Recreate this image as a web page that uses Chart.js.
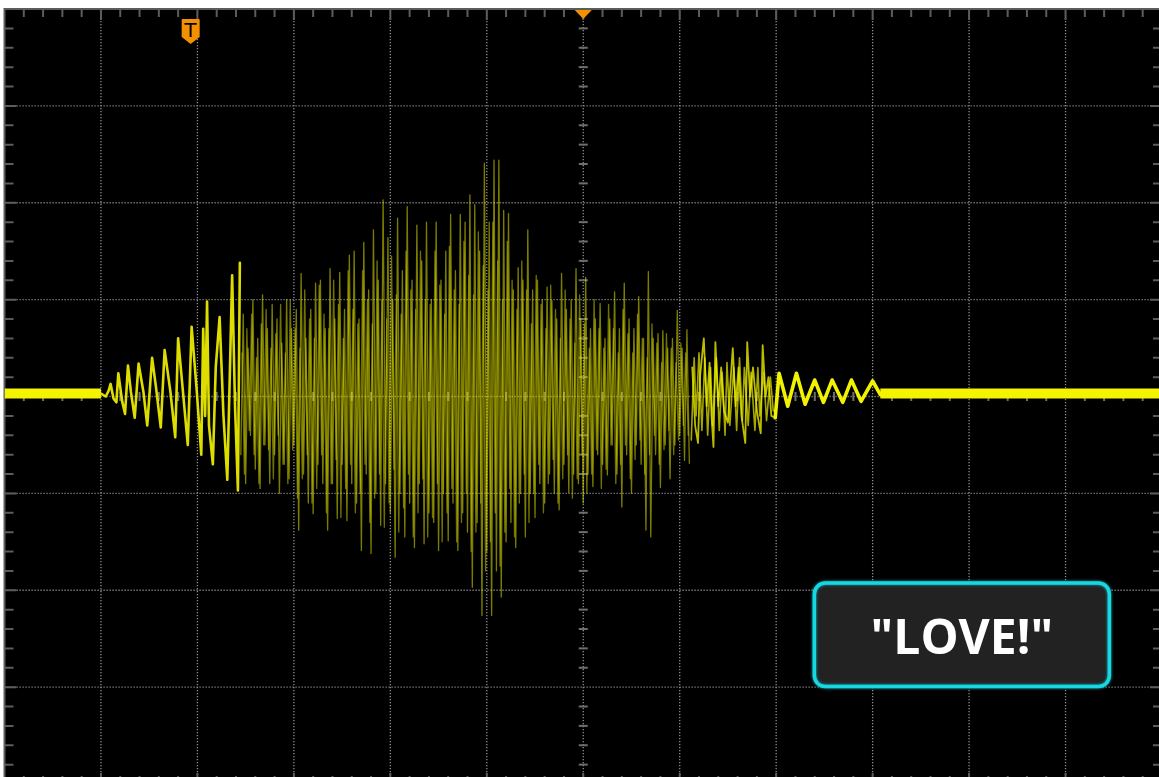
<!DOCTYPE html>
<html>
<head>
<meta charset="utf-8">
<title>Scope capture</title>
<style>
  html, body { margin: 0; padding: 0; background: #ffffff; overflow: hidden; width: 1159px; height: 777px; }
  #wrap { position: absolute; left: 0; top: 0; width: 1166px; height: 790px; }
  canvas { display: block; }
</style>
<script src="https://cdn.jsdelivr.net/npm/chart.js@4.4.0/dist/chart.umd.min.js"></script>
</head>
<body>
<div id="wrap"><canvas id="scope" width="1166" height="790"></canvas></div>
<script>
// Screen: 12 x 8 divisions, 100 ms/div horizontally, 1 V/div vertically
const timeRange = [-600, 600];   // ms
const voltRange = [-4, 4];       // V
const msPerDiv = 100;
const voltsPerDiv = 1;
const minorPerDiv = 5;

const restLevel = 0.03;          // V, trace level outside the burst
const triggerTime = -407;        // ms, "T" marker
const horizPosition = 0;         // ms, position marker at top
const labelText = '"LOVE!"';

// Onset of the word: slow, growing oscillation (ms, V)
const attackTimes = [-500, -495, -492, -490, -487, -484, -482, -478, -475, -472,
  -469, -465, -461, -456, -452, -447, -443, -438, -434, -428,
  -423, -420, -415, -410, -406, -401, -396, -394, -392, -390,
  -388, -384, -381, -377, -373, -369, -366, -364, -361, -358, -356];
const attackVolts = [0.03, 0.0, 0.06, 0.13, -0.02, -0.06, 0.24, -0.05, -0.18, 0.32,
  0.05, -0.22, 0.34, 0.05, -0.3, 0.4, 0.1, -0.32, 0.48, 0.05,
  -0.42, 0.6, 0.05, -0.5, 0.72, 0.1, -0.6, 0.7, -0.2, 0.98,
  -0.3, -0.7, 0.3, 0.82, -0.2, -0.86, 0.4, 1.25, -0.1, -0.97, 1.38];

// Vowel body, sweep A: samples every 2.5 ms starting at -355 ms (V)
const burstStart = -355;
const burstStep = 2.5;
const burstVolts = [
  -0.6, 0.85, -0.9, 0.5, -0.4, 1.0, -0.75, 0.6, -0.95, 1.05,
  -0.5, 0.7, -0.9, 0.95, -0.6, 0.8, -1.0, 0.55, -0.7, 1.0,
  -0.85, 0.7, -0.5, 0.9, -1.38, 1.27, -0.8, 0.6, -1.1, 0.9,
  -1.21, 1.17, -0.7, 1.2, -0.9, 0.7, -1.38, 1.32, -0.9, 0.8,
  -1.26, 1.28, -0.7, 0.9, -1.28, 1.46, -0.9, 1.5, -1.1, 0.8,
  -1.59, 1.59, -0.8, 1.1, -1.62, 1.72, -1.0, 1.2, -1.33, 2.03,
  -0.9, 1.64, -1.2, 1.0, -1.66, 1.84, -1.0, 1.3, -1.45, 1.96,
  -1.1, 1.2, -1.56, 1.77, -0.9, 1.4, -1.52, 1.8, -1.2, 1.0,
  -1.3, 1.8, -1.59, 1.2, -1.0, 1.5, -1.49, 1.88, -1.1, 1.3,
  -1.59, 1.88, -1.2, 1.8, -1.4, 2.08, -1.97, 1.98, -1.3, 1.5,
  -2.26, 2.41, -1.6, 1.8, -2.26, 2.44, -1.8, 2.44, -2.07, 1.92,
  -1.5, 1.89, -1.3, 1.1, -1.56, 1.33, -1.0, 1.2, -1.45, 1.72,
  -1.0, 1.1, -1.25, 1.2, -0.9, 1.0, -1.1, 1.13, -0.8, 0.99,
  -1.0, 0.8, -1.17, 1.27, -0.7, 0.9, -0.99, 1.0, -0.8, 1.32,
  -0.9, 0.8, -1.1, 1.23, -0.8, 0.7, -0.93, 0.8, -0.6, 0.96,
  -0.7, 0.6, -0.81, 0.8, -0.5, 1.08, -0.8, 0.7, -1.14, 1.17,
  -0.6, 0.8, -1.0, 0.7, -0.5, 1.03, -0.7, 0.6, -1.38, 1.29,
  -1.45, 0.6, -0.6, 0.65, -0.94, 0.68, -0.5, 0.5, -0.85, 0.6,
  -0.5, 0.89, -0.4, 0.5, -0.66, 0.69, -0.69
];

// Vowel body, sweep B (persistence overlay): every 2.5 ms from -353.75 ms (V)
const bodyStart = -353.75;
const bodyVolts = [
  0.45, -0.8, 0.7, -0.35, 0.85, -0.6, 0.4, -0.9, 0.75, -0.5,
  0.9, -0.55, 0.5, -0.85, 0.65, -0.4, 0.95, -0.7, 0.45, -0.9,
  1.0, -0.55, 0.7, -1.05, 0.5, -0.85, 1.1, -0.6, 0.8, -1.1,
  0.6, -0.95, 1.15, -0.6, 0.85, -1.2, 0.7, -0.9, 1.2, -0.65,
  0.95, -1.25, 0.6, -0.95, 1.3, -0.7, 0.9, -1.2, 0.75, -1.0,
  1.3, -0.7, 1.0, -1.3, 0.75, -1.05, 1.4, -0.8, 1.0, -1.35,
  0.8, -1.1, 1.45, -0.75, 1.05, -1.4, 0.85, -1.15, 1.5, -0.8,
  1.1, -1.45, 0.9, -1.2, 1.5, -0.85, 1.0, -1.45, 0.95, -1.25,
  1.5, -0.9, 1.15, -1.5, 0.85, -1.2, 1.55, -0.95, 1.1, -1.5,
  0.95, -1.3, 1.6, -1.0, 1.25, -1.6, 1.05, -1.4, 1.7, -1.1,
  1.35, -1.8, 1.1, -1.5, 1.8, -1.2, 1.4, -1.75, 1.0, -1.4,
  1.6, -0.95, 1.2, -1.45, 0.9, -1.1, 1.4, -0.8, 1.1, -1.3,
  0.75, -1.0, 1.25, -0.7, 0.95, -1.2, 0.7, -0.9, 1.15, -0.65,
  0.9, -1.1, 0.6, -0.85, 1.1, -0.6, 0.8, -1.05, 0.55, -0.85,
  1.05, -0.6, 0.75, -1.0, 0.5, -0.8, 1.0, -0.55, 0.7, -0.95,
  0.5, -0.75, 0.95, -0.5, 0.7, -0.9, 0.45, -0.7, 0.9, -0.5,
  0.65, -0.85, 0.45, -0.65, 0.85, -0.45, 0.6, -0.8, 0.4, -0.6,
  0.75, -0.4, 0.55, -0.7, 0.35, -0.55, 0.65, -0.35, 0.5, -0.6,
  0.35, -0.45, 0.55, -0.3, 0.45, -0.4
];

// Decay after the vowel, two sweeps (ms, V)
const tailTimes = [113, 116, 119, 121, 125, 128, 131, 133, 135, 137,
  140, 143, 146, 150, 153, 155, 158, 161, 164, 168,
  170, 173, 176, 180, 184, 186, 189, 192, 195, 199];
const tailVolts = [0.3, -0.3, -0.48, 0.2, 0.6, -0.1, 0.35, -0.2, -0.52, 0.56,
  -0.1, 0.3, -0.15, -0.27, 0.2, 0.5, -0.1, 0.3, -0.2, -0.48,
  0.56, 0.0, 0.3, -0.15, -0.38, 0.53, 0.0, 0.2, -0.2, -0.22];
const tail2Times = [112, 115, 117, 120, 123, 126, 129, 132, 134, 138,
  141, 144, 147, 149, 152, 156, 159, 162, 165, 167,
  171, 174, 178, 181, 183, 187, 190, 194, 197];
const tail2Volts = [-0.45, 0.4, -0.2, 0.45, -0.35, 0.4, -0.4, 0.3, -0.3, 0.4,
  -0.35, 0.25, -0.4, 0.35, -0.3, 0.3, -0.35, 0.4, -0.25, 0.3,
  -0.3, 0.25, -0.35, 0.3, -0.2, 0.25, -0.25, 0.2, -0.15];

// Final low ringing before the trace settles (ms, V)
const ringTimes = [199, 203, 212, 221, 230, 240, 249, 258, 269, 278, 288, 300, 308];
const ringVolts = [-0.22, 0.24, -0.1, 0.24, -0.08, 0.17, -0.06, 0.17, -0.06, 0.17, -0.05, 0.16, 0.02];

const pairs = (ts, vs) => ts.map((t, i) => ({ x: t, y: vs[i] }));
const sampled = (t0, dt, vs) => vs.map((v, i) => ({ x: t0 + i * dt, y: v }));
const leftRest = [{ x: timeRange[0], y: restLevel }, { x: attackTimes[0], y: restLevel }];
const rightRest = [{ x: ringTimes[ringTimes.length - 1], y: restLevel }, { x: timeRange[1], y: restLevel }];

const GRID_DOT = '#8e8e8e';
const FRAME = '#5c5c5c';
const MARKER = '#f39000';

// black screen behind everything
const screenFill = {
  id: 'screenFill',
  beforeDraw(chart) {
    const { ctx, chartArea: a } = chart;
    ctx.save();
    ctx.fillStyle = '#000000';
    ctx.fillRect(a.left, a.top, a.right - a.left, a.bottom - a.top);
    ctx.restore();
  }
};

// graticule: dotted division lines, frame, minor ticks on frame and centre axes
const graticule = {
  id: 'graticule',
  beforeDatasetsDraw(chart) {
    const { ctx, chartArea: a, scales: { x, y } } = chart;
    ctx.save();
    ctx.strokeStyle = GRID_DOT;
    ctx.lineWidth = 1.3;
    ctx.setLineDash([1.2, 1.8]);
    for (let t = timeRange[0] + msPerDiv; t < timeRange[1]; t += msPerDiv) {
      const px = x.getPixelForValue(t);
      ctx.beginPath(); ctx.moveTo(px, a.top); ctx.lineTo(px, a.bottom); ctx.stroke();
    }
    for (let v = voltRange[0] + voltsPerDiv; v < voltRange[1]; v += voltsPerDiv) {
      const py = y.getPixelForValue(v);
      ctx.beginPath(); ctx.moveTo(a.left, py); ctx.lineTo(a.right, py); ctx.stroke();
    }
    ctx.setLineDash([]);

    ctx.strokeStyle = FRAME;
    ctx.lineWidth = 2;
    const tStep = msPerDiv / minorPerDiv;
    const tCount = Math.round((timeRange[1] - timeRange[0]) / tStep);
    for (let k = 1; k < tCount; k++) {
      const px = x.getPixelForValue(timeRange[0] + k * tStep);
      const len = k % minorPerDiv === 0 ? 11 : 8;
      ctx.beginPath();
      ctx.moveTo(px, a.top); ctx.lineTo(px, a.top + len);
      ctx.moveTo(px, a.bottom); ctx.lineTo(px, a.bottom - len);
      ctx.stroke();
    }
    const vStep = voltsPerDiv / minorPerDiv;
    const vCount = Math.round((voltRange[1] - voltRange[0]) / vStep);
    for (let k = 1; k < vCount; k++) {
      const py = y.getPixelForValue(voltRange[0] + k * vStep);
      const len = k % minorPerDiv === 0 ? 12 : 9;
      ctx.beginPath();
      ctx.moveTo(a.left, py); ctx.lineTo(a.left + len, py);
      ctx.moveTo(a.right, py); ctx.lineTo(a.right - len, py);
      ctx.stroke();
    }
    // centre axes ticks
    ctx.strokeStyle = '#6e6e6e';
    const cx = x.getPixelForValue(0), cy = y.getPixelForValue(0);
    for (let k = 1; k < tCount; k++) {
      if (k % minorPerDiv === 0) continue;
      const px = x.getPixelForValue(timeRange[0] + k * tStep);
      ctx.beginPath(); ctx.moveTo(px, cy - 4.5); ctx.lineTo(px, cy + 4.5); ctx.stroke();
    }
    for (let k = 1; k < vCount; k++) {
      if (k % minorPerDiv === 0) continue;
      const py = y.getPixelForValue(voltRange[0] + k * vStep);
      ctx.beginPath(); ctx.moveTo(cx - 4.5, py); ctx.lineTo(cx + 4.5, py); ctx.stroke();
    }
    // frame
    ctx.strokeStyle = FRAME;
    ctx.lineWidth = 2;
    ctx.strokeRect(a.left, a.top, a.right - a.left, a.bottom - a.top);
    ctx.restore();
  }
};

// trigger / position markers and the caption box
const overlays = {
  id: 'overlays',
  afterDatasetsDraw(chart, args, opts) {
    const { ctx, chartArea: a, scales: { x, y } } = chart;
    ctx.save();
    // horizontal position marker
    const hx = x.getPixelForValue(horizPosition);
    ctx.fillStyle = MARKER;
    ctx.beginPath();
    ctx.moveTo(hx - 8.5, a.top + 1);
    ctx.lineTo(hx + 8.5, a.top + 1);
    ctx.lineTo(hx, a.top + 10);
    ctx.closePath();
    ctx.fill();

    // trigger marker
    const tx = x.getPixelForValue(triggerTime);
    const top = a.top + 10;
    ctx.beginPath();
    ctx.moveTo(tx - 9, top + 1);
    ctx.quadraticCurveTo(tx - 9, top, tx - 8, top);
    ctx.lineTo(tx + 8, top);
    ctx.quadraticCurveTo(tx + 9, top, tx + 9, top + 1);
    ctx.lineTo(tx + 9, top + 18);
    ctx.lineTo(tx, top + 25);
    ctx.lineTo(tx - 9, top + 18);
    ctx.closePath();
    ctx.fill();
    ctx.fillStyle = '#000000';
    ctx.font = '20px "DejaVu Sans"';
    ctx.textAlign = 'center';
    ctx.textBaseline = 'alphabetic';
    ctx.fillText('T', tx, top + 17.5);

    // caption box
    const b = opts.box;
    const x0 = x.getPixelForValue(b.t0), x1 = x.getPixelForValue(b.t1);
    const y0 = y.getPixelForValue(b.v0), y1 = y.getPixelForValue(b.v1);
    ctx.beginPath();
    ctx.roundRect(x0 + 1.5, y0 + 1.5, x1 - x0 - 3, y1 - y0 - 3, 11);
    ctx.fillStyle = '#222222';
    ctx.fill();
    ctx.shadowColor = 'rgba(20,220,230,0.8)';
    ctx.shadowBlur = 3;
    ctx.lineWidth = 3.5;
    ctx.strokeStyle = '#16d8e2';
    ctx.stroke();
    ctx.shadowBlur = 0;
    ctx.fillStyle = '#ffffff';
    ctx.font = 'bold 48px "Open Sans"';
    ctx.textAlign = 'center';
    ctx.textBaseline = 'alphabetic';
    ctx.fillText(labelText, (x0 + x1) / 2, (y0 + y1) / 2 + 19);
    ctx.restore();
  }
};

const lineDefaults = { pointRadius: 0, tension: 0, borderJoinStyle: 'round', borderCapStyle: 'round', fill: false };
const BURST = 'rgba(226,226,0,0.55)';

new Chart(document.getElementById('scope'), {
  type: 'line',
  data: {
    datasets: [
      { ...lineDefaults, label: 'rest L', data: leftRest, borderColor: '#f4f400', borderWidth: 10, borderCapStyle: 'butt' },
      { ...lineDefaults, label: 'rest R', data: rightRest, borderColor: '#f4f400', borderWidth: 10, borderCapStyle: 'butt' },
      { ...lineDefaults, label: 'ring', data: pairs(ringTimes, ringVolts), borderColor: '#f2f200', borderWidth: 3.6 },
      { ...lineDefaults, label: 'attack', data: pairs(attackTimes, attackVolts), borderColor: 'rgba(240,240,0,0.92)', borderWidth: 2.6 },
      { ...lineDefaults, label: 'tail', data: pairs(tailTimes, tailVolts), borderColor: 'rgba(236,236,0,0.8)', borderWidth: 1.8 },
      { ...lineDefaults, label: 'tail B', data: pairs(tail2Times, tail2Volts), borderColor: 'rgba(236,236,0,0.7)', borderWidth: 1.6 },
      { ...lineDefaults, label: 'burst', data: sampled(burstStart, burstStep, burstVolts), borderColor: BURST, borderWidth: 1.3 },
      { ...lineDefaults, label: 'burst B', data: sampled(bodyStart, burstStep, bodyVolts), borderColor: 'rgba(226,226,0,0.5)', borderWidth: 1.3 }
    ]
  },
  options: {
    responsive: false,
    devicePixelRatio: 1,
    animation: false,
    events: [],
    layout: { padding: { left: 4.5, top: 9, right: 4, bottom: 6 } },
    scales: {
      x: { type: 'linear', min: timeRange[0], max: timeRange[1], display: false },
      y: { type: 'linear', min: voltRange[0], max: voltRange[1], display: false }
    },
    plugins: {
      legend: { display: false },
      tooltip: { enabled: false },
      overlays: { box: { t0: 238, t1: 547, v0: -1.91, v1: -3.01 } }
    }
  },
  plugins: [screenFill, graticule, overlays]
});
</script>
</body>
</html>
